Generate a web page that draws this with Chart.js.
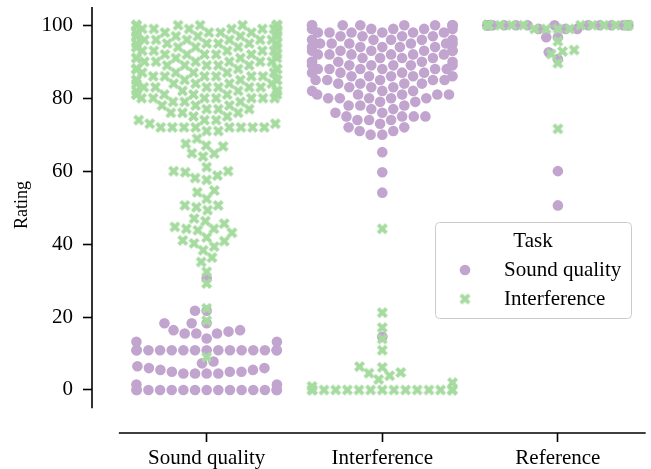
<!DOCTYPE html>
<html>
<head>
<meta charset="utf-8">
<script src="https://cdn.jsdelivr.net/npm/chart.js@4.4.1/dist/chart.umd.min.js"></script>
<style>
  html, body { margin: 0; padding: 0; background: #fff; }
</style>
</head>
<body>
<canvas id="myChart" width="651" height="469"></canvas>
<script>
const categories = ["Sound quality", "Interference", "Reference"];
const tasks = ["Sound quality", "Interference"];
const yTicks = [0, 20, 40, 60, 80, 100];
const taskColors = ["#c2a5cf", "#a6dba0"];

// ratings as [rating, number of times given]
// Sound quality task (purple circles)
const sqOnSoundQuality = [[0, 15], [1.5, 2], [4.5, 4], [5, 3], [5.5, 2], [6, 2], [6.5, 1], [7.3, 1], [7.8, 1],
  [10.9, 15], [13.2, 2], [14.1, 1], [15.5, 3], [16, 1], [16.4, 2], [18.3, 3], [21.7, 2], [30.6, 1]];
const sqOnInterference = [[14.6, 1], [54.1, 1], [59.7, 1], [65.2, 1], [70, 2], [71, 2], [72, 2], [73, 1], [74, 3],
  [75, 4], [76, 2], [77, 2], [78, 3], [79, 2], [80, 5], [81, 5], [82, 3], [83, 3], [84, 4], [85, 5], [86, 5],
  [87, 4], [88, 6], [89, 6], [90, 5], [91, 4], [92, 6], [93, 6], [94, 5], [95, 6], [96, 5], [97, 4], [98, 6],
  [99, 5], [100, 9]];
const sqOnReference = [[50.6, 1], [60, 1], [90.7, 1], [92.6, 1], [96.7, 2], [99, 3], [100, 14]];

// Interference task (green crosses)
const intOnSoundQuality = [[9, 1], [19, 1], [22.4, 1], [29.2, 1], [32.4, 1], [35.1, 1], [36.3, 1], [38.3, 1],
  [39.3, 1], [40.2, 1], [40.8, 1], [41, 1], [41.8, 1], [43.1, 1], [43.8, 1], [44.2, 2], [44.7, 1], [45.6, 1],
  [46.3, 1], [47, 1], [49.3, 1], [50.1, 1], [50.6, 2], [52.4, 1], [54.2, 1], [54.7, 1], [57.6, 1], [58.1, 1],
  [58.8, 1], [59.7, 1], [60, 2], [61.1, 1], [64, 1], [64.8, 1], [64.9, 1], [66.8, 1], [67, 1], [67.5, 1],
  [68.9, 1], [71, 2], [72, 8], [73, 2], [74, 3], [75, 2], [76, 3], [77, 3], [78, 3], [79, 3], [80, 7], [81, 6],
  [82, 5], [83, 6], [84, 5], [85, 6], [86, 6], [87, 5], [88, 6], [89, 5], [90, 6], [91, 5], [92, 6], [93, 5],
  [94, 6], [95, 6], [96, 6], [97, 7], [98, 7], [99, 7], [100, 9]];
const intOnInterference = [[0, 15], [1, 1], [2, 1], [2.9, 1], [3.9, 1], [4.6, 1], [4.8, 1], [6.2, 1], [6.4, 1],
  [10.9, 1], [14, 1], [17.1, 1], [21.2, 1], [44.2, 1]];
const intOnReference = [[71.6, 1], [89.6, 1], [92.1, 1], [92.8, 1], [93.2, 1], [95.6, 1], [99, 4], [100, 14]];

function expand(pairs) {
  const out = [];
  for (const [v, n] of pairs) for (let i = 0; i < n; i++) out.push(v);
  return out;
}

// same idea as seaborn's swarm: sort by value, put each point at the
// free spot closest to the middle
function beeswarm(ys, r) {
  const order = ys.map((v, i) => i).sort((a, b) => ys[a] - ys[b] || a - b);
  const placed = [];
  const out = new Array(ys.length);
  for (const i of order) {
    const y = ys[i];
    const nb = [];
    for (let j = placed.length - 1; j >= 0; j--) {
      if (y - placed[j].y < 2 * r) nb.unshift(placed[j]);
      else break;
    }
    let cands = [0];
    let leftFirst = true;
    for (const q of nb) {
      const dy = y - q.y;
      const dx = Math.sqrt(Math.max(4 * r * r - dy * dy, 0)) * 1.05;
      if (leftFirst) cands.push(q.x - dx, q.x + dx);
      else cands.push(q.x + dx, q.x - dx);
      leftFirst = !leftFirst;
    }
    cands = cands.map((c, k) => [c, k])
      .sort((a, b) => Math.abs(a[0]) - Math.abs(b[0]) || a[1] - b[1])
      .map(c => c[0]);
    let x = cands[0];
    for (const c of cands) {
      if (nb.every(q => (q.x - c) ** 2 + (q.y - y) ** 2 >= 4 * r * r)) { x = c; break; }
    }
    placed.push({ x: x, y: y });
    out[i] = x;
  }
  return out;
}

function makeCross(size, color) {
  const c = document.createElement("canvas");
  c.width = c.height = Math.ceil(size) + 2;
  const g = c.getContext("2d");
  const s = size / 4, m = c.width / 2;
  const pts = [[-1, -2], [0, -1], [1, -2], [2, -1], [1, 0], [2, 1], [1, 2], [0, 1], [-1, 2], [-2, 1], [-1, 0], [-2, -1]];
  g.fillStyle = color;
  g.beginPath();
  pts.forEach(([px, py], i) => i ? g.lineTo(m + px * s, m + py * s) : g.moveTo(m + px * s, m + py * s));
  g.closePath();
  g.fill();
  return c;
}

const serif = "'Liberation Serif', 'Times New Roman', serif";
const cross = makeCross(11, taskColors[1]);

// spines offset from the plot, y label and the legend box
const decorations = {
  id: "decorations",
  afterDraw(chart) {
    const c = chart.ctx;
    const xs = chart.scales.x, ys = chart.scales.y;
    const area = chart.chartArea;
    c.save();
    c.strokeStyle = "#000";
    c.lineWidth = 1.6;
    c.beginPath();
    c.moveTo(area.left, ys.getPixelForValue(-5));
    c.lineTo(area.left, ys.getPixelForValue(105));
    c.moveTo(xs.getPixelForValue(-0.5), area.bottom);
    c.lineTo(xs.getPixelForValue(2.5), area.bottom);
    c.stroke();

    c.fillStyle = "#000";
    c.font = "18px " + serif;
    c.textAlign = "center";
    c.textBaseline = "middle";
    c.translate(22, 205);
    c.rotate(-Math.PI / 2);
    c.fillText("Rating", 0, 0);
    c.restore();

    // legend
    c.save();
    c.beginPath();
    c.roundRect(435.5, 222.5, 196, 96, 4);
    c.fillStyle = "rgba(255,255,255,0.8)";
    c.fill();
    c.strokeStyle = "#cccccc";
    c.lineWidth = 1;
    c.stroke();
    c.fillStyle = "#000";
    c.font = "21px " + serif;
    c.textBaseline = "middle";
    c.textAlign = "center";
    c.fillText("Task", 533, 241);
    c.textAlign = "left";
    c.fillText(tasks[0], 504, 270);
    c.fillText(tasks[1], 504, 299);
    c.fillStyle = taskColors[0];
    c.beginPath();
    c.arc(465, 270, 5.3, 0, Math.PI * 2);
    c.fill();
    c.drawImage(cross, 465 - cross.width / 2, 299 - cross.height / 2);
    c.restore();
  }
};

const noPad = (s) => { s.paddingTop = 0; s.paddingBottom = 0; s.paddingLeft = 0; s.paddingRight = 0; };

const ctx = document.getElementById("myChart").getContext("2d");
const myChart = new Chart(ctx, {
  type: "scatter",
  data: {
    datasets: [
      { label: tasks[0], data: [], pointStyle: "circle", pointRadius: 5.3, backgroundColor: taskColors[0], borderWidth: 0, order: 1 },
      { label: tasks[1], data: [], pointStyle: cross, pointRadius: 5.3, backgroundColor: taskColors[1], borderWidth: 0, order: 0 },
    ],
  },
  options: {
    responsive: false,
    animation: false,
    events: [],
    layout: { padding: { top: 7, right: 3, left: 0, bottom: 0 } },
    plugins: { legend: { display: false }, tooltip: { enabled: false } },
    scales: {
      x: {
        type: "linear",
        min: -0.653,
        max: 2.5,
        afterBuildTicks: (s) => { s.ticks = categories.map((c, i) => ({ value: i })); },
        afterFit: (s) => { s.height = 36; noPad(s); },
        ticks: {
          callback: (v) => categories[v],
          font: { family: serif, size: 21 },
          color: "#000",
          padding: 4,
          maxRotation: 0,
          autoSkip: false,
        },
        grid: { drawOnChartArea: false, drawTicks: true, tickLength: 9, tickWidth: 1.6, tickColor: "#000" },
        border: { display: false },
      },
      y: {
        type: "linear",
        min: -11.8,
        max: 105,
        afterBuildTicks: (s) => { s.ticks = yTicks.map(v => ({ value: v })); },
        afterFit: (s) => { s.width = 92; noPad(s); },
        ticks: {
          font: { family: serif, size: 21 },
          color: "#000",
          padding: 10,
        },
        grid: { drawOnChartArea: false, drawTicks: true, tickLength: 9, tickWidth: 1.6, tickColor: "#000" },
        border: { display: false },
      },
    },
  },
  plugins: [decorations],
});

// lay out the swarms with the pixel sizes of the real scales
const xs = myChart.scales.x, ys = myChart.scales.y;
const pxX = xs.getPixelForValue(1) - xs.getPixelForValue(0);
const pxY = ys.getPixelForValue(0) - ys.getPixelForValue(1);

function swarmPoints(pairs, cat) {
  const values = expand(pairs);
  const offs = beeswarm(values.map(v => v * pxY), 5.57);
  return values.map((v, i) => ({ x: cat + Math.max(-0.4, Math.min(0.4, offs[i] / pxX)), y: v }));
}

myChart.data.datasets[0].data = [].concat(
  swarmPoints(sqOnSoundQuality, 0), swarmPoints(sqOnInterference, 1), swarmPoints(sqOnReference, 2));
myChart.data.datasets[1].data = [].concat(
  swarmPoints(intOnSoundQuality, 0), swarmPoints(intOnInterference, 1), swarmPoints(intOnReference, 2));
myChart.update();
</script>
</body>
</html>
